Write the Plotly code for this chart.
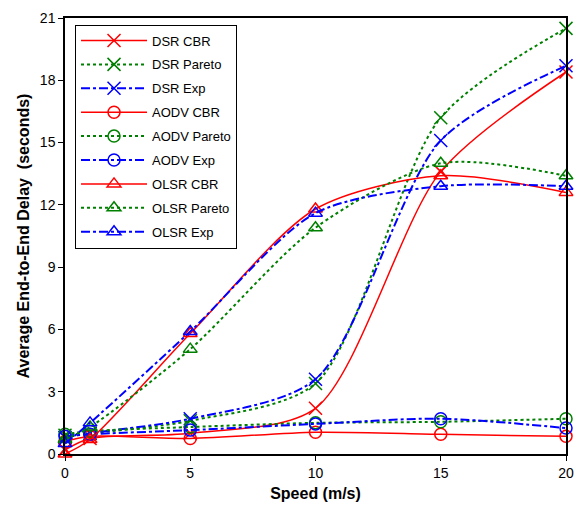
import plotly.graph_objects as go

speed = [0, 1, 5, 10, 15, 20]

dsr_cbr = [0.2, 0.75, 1.0, 2.2, 13.6, 18.4]
dsr_pareto = [0.9, 1.0, 1.6, 3.4, 16.2, 20.5]
dsr_exp = [0.8, 1.0, 1.7, 3.6, 15.1, 18.7]
aodv_cbr = [0.6, 0.85, 0.75, 1.05, 0.95, 0.85]
aodv_pareto = [0.95, 1.1, 1.3, 1.5, 1.55, 1.7]
aodv_exp = [0.85, 0.95, 1.15, 1.45, 1.7, 1.25]
olsr_cbr = [0.0, 0.7, 5.8, 11.8, 13.4, 12.6]
olsr_pareto = [0.7, 1.3, 5.05, 10.9, 14.0, 13.4]
olsr_exp = [0.5, 1.5, 5.9, 11.6, 12.9, 12.9]

x_ticks = [0, 5, 10, 15, 20]
y_ticks = [0, 3, 6, 9, 12, 15, 18, 21]

RED = "rgb(255,0,0)"
GREEN = "rgb(0,128,0)"
BLUE = "rgb(0,0,255)"

series = [
    ("DSR CBR", dsr_cbr, RED, "solid", "x-thin-open", 1.5, 13),
    ("DSR Pareto", dsr_pareto, GREEN, "dot", "x-thin-open", 2, 13),
    ("DSR Exp", dsr_exp, BLUE, "dashdot", "x-thin-open", 2, 13),
    ("AODV CBR", aodv_cbr, RED, "solid", "circle-open", 1.5, 12),
    ("AODV Pareto", aodv_pareto, GREEN, "dot", "circle-open", 2, 12),
    ("AODV Exp", aodv_exp, BLUE, "dashdot", "circle-open", 2, 12),
    ("OLSR CBR", olsr_cbr, RED, "solid", "triangle-up-open", 1.5, 12),
    ("OLSR Pareto", olsr_pareto, GREEN, "dot", "triangle-up-open", 2, 12),
    ("OLSR Exp", olsr_exp, BLUE, "dashdot", "triangle-up-open", 2, 12),
]

fig = go.Figure()
for name, vals, col, dash, sym, lw, ms in series:
    fig.add_trace(go.Scatter(
        x=speed, y=vals, name=name, mode="lines+markers", legendgroup=name,
        line=dict(color=col, dash=dash, width=lw, shape="spline", smoothing=0.8),
        marker=dict(symbol=sym, size=ms, color=col, line=dict(color=col, width=1.5)),
        cliponaxis=False,
    ))

fig.update_layout(
    width=584, height=510,
    margin=dict(l=65, r=10, t=15, b=54),
    paper_bgcolor="white", plot_bgcolor="white",
    font=dict(family="Liberation Sans, Arial, sans-serif", size=14, color="black"),
    showlegend=True,
    legend=dict(
        x=0.02, y=0.985, xanchor="left", yanchor="top",
        bgcolor="white", bordercolor="black", borderwidth=1,
        font=dict(size=13), itemwidth=66, tracegroupgap=4,
    ),
)
fig.update_xaxes(
    range=[0, 20], tickvals=x_ticks, showgrid=False, zeroline=False,
    showline=True, linecolor="black", linewidth=1.5, mirror=True,
    ticks="outside", ticklen=5, tickcolor="black",
    title=dict(text="<b>Speed (m/s)</b>", font=dict(size=16), standoff=8),
)
fig.update_yaxes(
    range=[0, 21], tickvals=y_ticks, showgrid=False, zeroline=False,
    showline=True, linecolor="black", linewidth=1.5, mirror=True,
    ticks="outside", ticklen=5, tickcolor="black",
    title=dict(text="<b>Average End-to-End Delay  (seconds)</b>", font=dict(size=16), standoff=6),
)

fig.write_html("out.html")
